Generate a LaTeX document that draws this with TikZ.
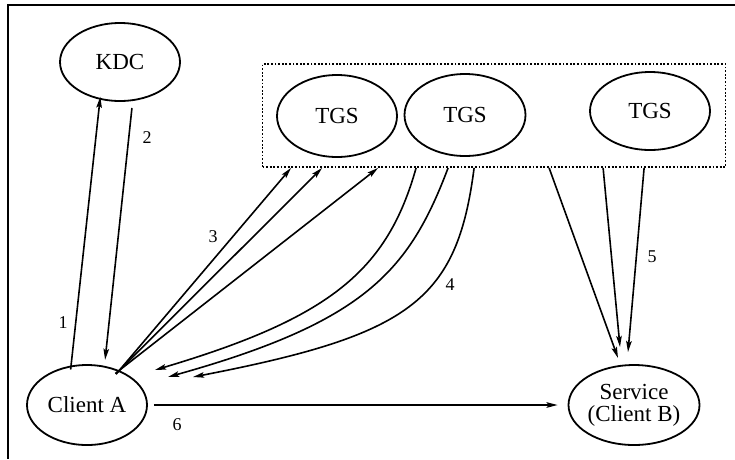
\documentclass[tikz,border=0pt]{standalone}
\usepackage{fontspec}
\setmainfont{Liberation Serif}
\usetikzlibrary{shapes.geometric,arrows.meta}
\begin{document}
\begin{tikzpicture}[x=1pt,y=-1pt,
  ell/.style={ellipse,draw,line width=1.8pt,inner sep=0pt,minimum width=120pt,minimum height=80pt,font=\fontsize{23}{22}\selectfont,align=center},
  arr/.style={line width=1.6pt,-{Stealth[length=11pt,width=5.5pt,inset=2pt]}},
  num/.style={font=\fontsize{18}{18}\selectfont,inner sep=0pt}]
\useasboundingbox (0,0) rectangle (735,459);
\draw[line width=1.8pt] (735,5) -- (8,5) -- (8,459);
% nodes
\node[ell,minimum height=78pt] (kdc) at (120,62) {KDC};
\node[draw,line width=1.8pt,dash pattern=on 1.8pt off 1.8pt,minimum width=463pt,minimum height=103pt,inner sep=0pt] (box) at (494,115.5) {};
\node[ell,minimum height=82pt] (tgs1) at (337,116) {TGS};
\node[ell,minimum height=82pt,minimum width=121pt] (tgs2) at (465,115) {TGS};
\node[ell,minimum height=78pt] (tgs3) at (650,111) {TGS};
\node[ell] (ca) at (87,405) {Client A};
\node[ell,minimum width=118pt] (svc) at (634,405) {Service\\(Client B)};
% coordinates
\coordinate (b3a) at ([xshift=29.5pt]box.south west);
\coordinate (b3b) at ([xshift=60.5pt]box.south west);
\coordinate (b3c) at ([xshift=116.5pt]box.south west);
\coordinate (b4a) at ([xshift=154.5pt]box.south west);
\coordinate (b4b) at ([xshift=186.5pt]box.south west);
\coordinate (b4c) at ([xshift=212.5pt]box.south west);
\coordinate (b5a) at ([xshift=287.5pt]box.south west);
\coordinate (b5b) at ([xshift=341.5pt]box.south west);
\coordinate (b5c) at ([xshift=382.5pt]box.south west);
\coordinate (e4a) at ([shift={(68,-35)}]ca.center);
\coordinate (e4b) at ([shift={(81,-28)}]ca.center);
\coordinate (e4c) at ([shift={(106,-28)}]ca.center);
\coordinate (e5a) at ([shift={(-16,-47)}]svc.center);
\coordinate (e5b) at ([shift={(-14,-58)}]svc.center);
\coordinate (e5c) at ([shift={(-6,-53)}]svc.center);
% 1, 2
\draw[arr,shorten <=-4pt,shorten >=-3pt] (ca.112) -- (kdc.-118);
\draw[arr,shorten <=7pt,shorten >=6pt] (kdc.-72) -- (ca.66);
% 3
\draw[arr,shorten <=-5pt] (ca.47) -- (b3a);
\draw[arr,shorten <=-5pt] (ca.47) -- (b3b);
\draw[arr,shorten <=-5pt] (ca.47) -- (b3c);
% 4
\draw[arr] (b4a) .. controls +(-29,103) and +(175,-52) .. (e4a);
\draw[arr] (b4b) .. controls +(-39,103) and +(197,-55) .. (e4b);
\draw[arr] (b4c) .. controls +(-17,133) and +(217,-42) .. (e4c);
% 5
\draw[arr] (b5a) -- (e5a);
\draw[arr] (b5b) -- (e5b);
\draw[arr] (b5c) -- (e5c);
% 6
\draw[arr,shorten <=6pt,shorten >=10pt] (ca.east) -- (svc.west);
% labels
\node[num] (l1) at (63,323) {1};
\node[num] (l2) at (147,138) {2};
\node[num] (l3) at (213,237) {3};
\node[num] (l4) at (450,285) {4};
\node[num] (l5) at (652,257) {5};
\node[num] (l6) at (177,425) {6};
\end{tikzpicture}
\end{document}
